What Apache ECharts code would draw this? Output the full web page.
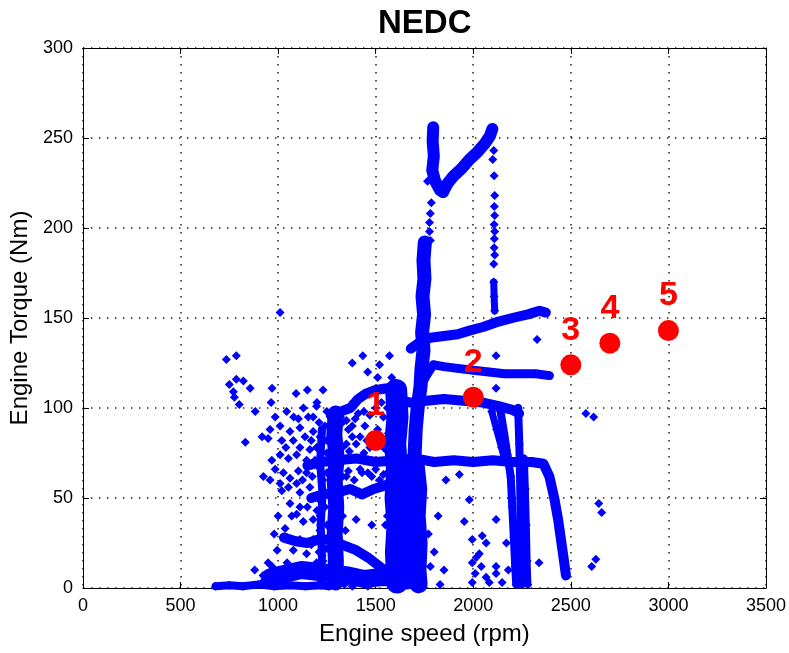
<!DOCTYPE html>
<html><head><meta charset="utf-8">
<script src="https://cdn.jsdelivr.net/npm/echarts/dist/echarts.min.js"></script>
<style>html,body{margin:0;padding:0;background:#fff}#c{width:789px;height:653px}</style>
</head><body><div id="c"></div>
<script>
// ---- axis ticks ----
const xTicks = [0, 500, 1000, 1500, 2000, 2500, 3000, 3500];
const yTicks = [0, 50, 100, 150, 200, 250, 300];

// ---- dense operating traces (engine speed rpm, torque Nm) ----
const bandTopLeft = [[1795,256],[1792,248],[1798,240],[1790,232],[1805,226],[1830,221],[1845,220]];
const bandTopDiag = [[1845,220],[1870,225],[1900,229],[1940,233],[1980,238],[2020,242],[2060,247],[2085,251],[2098,255]];
const bandTopRight = [[2105,170],[2107,162],[2110,154]];
const bandB = [[1752,192],[1745,182],[1750,172],[1740,162],[1748,152],[1738,142],[1745,132],[1735,122],[1730,112],[1715,100],[1705,88],[1700,75],[1700,68]];
const bandC = [[1680,133],[1720,136],[1780,139],[1850,140],[1920,141],[1980,143],[2050,145],[2130,148],[2200,150],[2280,152],[2340,154],[2372,153]];
const bandD = [[1720,110],[1760,118],[1795,124],[1850,123],[1920,122],[2000,121],[2080,120],[2160,119],[2240,119],[2320,119],[2390,118]];
const bandE = [[1600,105],[1680,103],[1760,104],[1850,105],[1950,104],[2050,103],[2130,101],[2200,99],[2235,97]];
const bandF = [[1150,68],[1220,70],[1300,71],[1400,72],[1500,70],[1600,71],[1700,72],[1800,70],[1900,71],[2000,70],[2100,71],[2200,70],[2300,70],[2360,69],[2390,62],[2415,50],[2435,38],[2452,25],[2465,15],[2475,7]];
const bandG0 = [[2095,98],[2120,88],[2145,78],[2165,70]];
const bandG1 = [[2140,98],[2158,86],[2175,74],[2192,62],[2200,45],[2208,28],[2215,12],[2220,2]];
const bandG2 = [[2230,100],[2236,80],[2240,60],[2243,40],[2246,20],[2248,2]];
const bandG3 = [[2262,72],[2267,55],[2272,35],[2276,15],[2280,2]];
const bandV1 = [[1295,97],[1288,85],[1300,72],[1290,60],[1298,45],[1290,30],[1296,15],[1293,3]];
const bandV1b = [[1225,88],[1215,70],[1228,52],[1218,35],[1225,18],[1220,4]];
const bandV2 = [[1605,110],[1612,95],[1600,80],[1610,65],[1602,50],[1612,35],[1604,20],[1610,3]];
const bandV2b = [[1660,62],[1655,45],[1665,30],[1658,15],[1662,3]];
const bandV3 = [[1705,68],[1718,55],[1710,40],[1720,25],[1714,10],[1720,2]];
const bandP = [[1270,96],[1320,98],[1370,100],[1410,105],[1450,108],[1500,110],[1560,111],[1610,110]];
const bandQ = [[1170,50],[1230,52],[1300,53],[1370,55],[1430,52],[1490,55],[1550,57],[1600,60]];
const bandR = [[1030,28],[1090,26],[1150,25],[1210,27],[1270,27],[1330,24],[1400,21],[1460,17],[1520,12],[1570,8]];
const bandJ = [[680,1],[750,1.5],[820,1],[900,2],[980,1],[1060,1.5],[1140,1],[1220,1.5],[1260,1]];
const bandK = [[960,6],[1040,8],[1120,10],[1200,9],[1280,8],[1360,7],[1440,5],[1520,6],[1580,6]];

// ---- scattered operating points ----
const cloudPoints = [
 [735,127],[786,129],[786,116],[822,115],[750,113],[771,109],[857,111],[776,106],[801,102],[883,98],
 [969,111],[964,103],[1092,108],[832,81],[918,84],[949,83],[1199,103],[1150,110],[1230,110],
 [985,95],[1044,98],[1104,94],[1155,95],[1197,101],[1010,90],[1061,87],[1112,89],[1138,84],[1180,87],
 [959,88],[1019,82],[1078,82],[1112,78],[1163,77],[1197,78],[968,71],[1010,74],[1053,72],[1095,74],
 [1146,71],[1189,71],[985,66],[1027,64],[1061,61],[1104,65],[1146,64],[1010,58],[1053,56],[1095,58],
 [959,60],[1019,54],[1112,53],[1163,56],[925,62],[1061,47],[1112,45],[1199,43],[1036,33],[1046,28],
 [1112,27],[1214,32],[949,14],[923,7],[995,21],[1046,14],[1095,41],[1129,37],[1078,21],[1146,19],
 [1180,27],[1197,14],[918,3],[969,12],[880,10],[1240,90],[1250,75],[1230,60],[1240,45],
 [1180,95],[1210,92],[1250,98],[1170,82],[1215,84],[1250,82],[1175,62],[1210,67],[1250,64],
 [1180,50],[1220,48],[1255,52],[1180,38],[1215,40],[1250,35],[1170,24],[1210,20],[1250,22],
 [1160,12],[1230,15],[1130,100],[1080,95],[1040,78],[1125,60],[1070,40],[1150,45],[1000,40],[980,30]
];
const midPoints = [
 [1010,153],[1434,129],[1571,129],[1520,124],[1459,120],[1510,117],[1582,117],[1597,114],[1380,125],
 [1330,92],[1360,88],[1395,94],[1420,84],[1445,90],[1470,96],[1540,95],[1565,86],[1590,98],
 [1330,78],[1365,76],[1400,80],[1440,75],[1470,78],[1540,78],[1575,74],[1610,80],
 [1350,62],[1390,60],[1430,64],[1480,62],[1520,60],[1560,64],[1400,38],[1480,35],
 [1320,95],[1350,93],[1380,90],[1410,97],[1440,98],[1500,100],[1530,103],[1560,100],
 [1350,80],[1380,84],[1455,82],[1510,88],[1530,82],[1560,76],[1590,90],
 [1330,62],[1360,65],[1420,66],[1460,64],[1500,66],[1540,63],[1580,64],
 [1330,40],[1345,32],[1560,40],[1575,30],[1550,35],
 [1340,2],[1380,1],[1420,3],[1460,1],
 [1785,214],[1780,208],[1776,203],[1776,198],[1780,193],[1766,226],
 [2105,243],[2100,238],[2107,229],[2110,218],[2108,212],[2110,207],[2107,202],[2110,198],
 [2108,194],[2107,189],[2110,185],[2105,180]
];
const rightPoints = [
 [2117,129],[2117,111],[2327,138],[1929,63],[2117,38],[1980,49],[2337,14],[2117,12],
 [2577,97],[2617,95],[2643,47],[2658,42],[2628,16],[2607,12],
 [1954,37],[1995,27],[2046,29],[2066,25],[2031,19],[2015,17],[2041,12],[2066,6],[2117,8],
 [2148,3],[2082,3],[1995,14],[1995,3],[2010,8],[2180,10],[2170,25],[1860,60],[1820,40],
 [1800,20],[1850,10],[1830,2],[1770,30],[1780,12]
];

// ---- highlighted operating points ----
const markLabels = ['1','2','3','4','5'];
const markSpeed = [1500, 2000, 2500, 2700, 3000];
const markTorque = [82, 106, 124, 136, 143];

const bands = [
 [bandTopLeft,12],[bandTopDiag,12],[bandTopRight,7],[bandB,14],[bandC,10],[bandD,9],[bandE,10],[bandF,10],
 [bandG0,7],[bandG1,8],[bandG2,8],[bandG3,7],[bandV1,16],[bandV1b,8],[bandV2,22],[bandV2b,14],[bandV3,18],
 [bandP,10],[bandQ,10],[bandR,10],[bandJ,8],[bandK,18]
];

const BLUE = '#0000ff';
const FONT = 'Liberation Sans, Arial, sans-serif';
const series = [];
bands.forEach(([d, w]) => {
  series.push({
    type: 'line', data: d, symbol: 'diamond', symbolSize: 9, showSymbol: true, showAllSymbol: true,
    lineStyle: {color: BLUE, width: w, cap: 'round', join: 'round'},
    itemStyle: {color: BLUE}, clip: false, silent: true, z: 2
  });
});
[cloudPoints, midPoints, rightPoints].forEach(d => {
  series.push({type: 'scatter', data: d, symbol: 'diamond', symbolSize: 9,
    itemStyle: {color: BLUE, opacity: 1}, clip: false, silent: true, z: 3});
});
series.push({
  type: 'scatter', z: 5, symbol: 'circle', symbolSize: 21, silent: true,
  data: markSpeed.map((s, i) => ({value: [s, markTorque[i]], name: markLabels[i]})),
  itemStyle: {color: '#ff0000', opacity: 1},
  label: {show: true, position: 'top', distance: 7, formatter: p => p.name,
    color: '#ff0000', fontSize: 34, fontWeight: 'bold', fontFamily: FONT}
});

const plain = v => String(v);
const dotted = {show: true, lineStyle: {color: '#222', width: 1.5, type: [1.5, 6.5]}};
const chart = echarts.init(document.getElementById('c'), null, {renderer: 'canvas'});
chart.setOption({
  animation: false,
  backgroundColor: '#fff',
  title: {text: 'NEDC', left: 373, top: 2,
    textStyle: {fontSize: 33, fontWeight: 'bold', color: '#000', fontFamily: FONT}},
  grid: {left: 82, right: 21, top: 48, bottom: 65},
  xAxis: [{
    type: 'value', min: xTicks[0], max: xTicks[xTicks.length-1], interval: 500, position: 'bottom',
    axisLine: {show: true, onZero: false, lineStyle: {color: '#000', width: 1}},
    axisTick: {show: true, inside: true, length: 6, lineStyle: {color: '#000'}},
    axisLabel: {color: '#000', fontSize: 18, margin: 9, fontFamily: FONT, formatter: plain},
    splitLine: dotted,
    name: 'Engine speed (rpm)', nameLocation: 'middle', nameGap: 34,
    nameTextStyle: {fontSize: 24, color: '#000', fontFamily: FONT}
  }, {
    type: 'value', min: xTicks[0], max: xTicks[xTicks.length-1], interval: 500, position: 'top',
    axisLine: {show: true, onZero: false, lineStyle: {color: '#000', width: 1}},
    axisTick: {show: true, inside: true, length: 6, lineStyle: {color: '#000'}},
    axisLabel: {show: false}, splitLine: {show: false}
  }],
  yAxis: [{
    type: 'value', min: yTicks[0], max: yTicks[yTicks.length-1], interval: 50, position: 'left',
    axisLine: {show: true, onZero: false, lineStyle: {color: '#000', width: 1}},
    axisTick: {show: true, inside: true, length: 6, lineStyle: {color: '#000'}},
    axisLabel: {color: '#000', fontSize: 18, margin: 10, fontFamily: FONT, formatter: plain},
    splitLine: dotted,
    name: 'Engine Torque (Nm)', nameLocation: 'middle', nameGap: 49,
    nameTextStyle: {fontSize: 24, color: '#000', fontFamily: FONT}
  }, {
    type: 'value', min: yTicks[0], max: yTicks[yTicks.length-1], interval: 50, position: 'right',
    axisLine: {show: true, onZero: false, lineStyle: {color: '#000', width: 1}},
    axisTick: {show: true, inside: true, length: 6, lineStyle: {color: '#000'}},
    axisLabel: {show: false}, splitLine: {show: false}
  }],
  series: series
});
</script>
</body></html>
